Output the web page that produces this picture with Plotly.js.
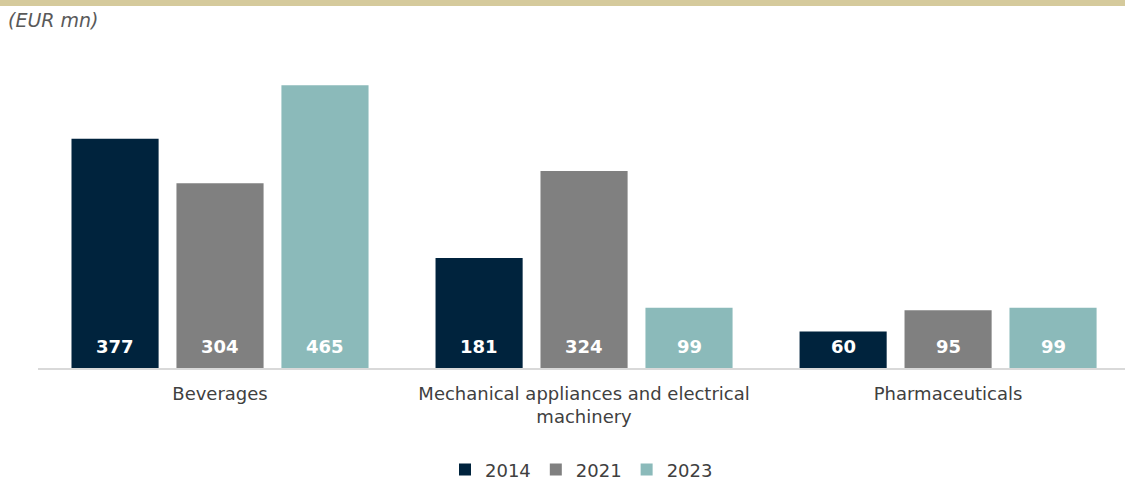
<!DOCTYPE html>
<html>
<head>
<meta charset="utf-8">
<script src="https://cdn.plot.ly/plotly-3.0.1.min.js"></script>
<style>
html,body{margin:0;padding:0;background:#fff;}
#wrap{position:relative;width:1125px;height:482px;}
#band{position:absolute;left:0;top:0;width:1125px;height:6px;background:#D5CA9C;z-index:5;}
#chart{position:absolute;left:0;top:0;width:1125px;height:482px;}
</style>
</head>
<body>
<div id="wrap"><div id="chart"></div><div id="band"></div></div>
<script>
const categories = ["Beverages", "Mechanical appliances and electrical<br>machinery", "Pharmaceuticals"];
const seriesNames = ["2014", "2021", "2023"];
const values2014 = [377, 181, 60];
const values2021 = [304, 324, 95];
const values2023 = [465, 99, 99];
const colors = ["#00233D", "#808080", "#8BBABA"];
const unitLabel = "(EUR mn)";

const font = "Verdana, 'DejaVu Sans', sans-serif";
const seriesValues = [values2014, values2021, values2023];
const bargap = 0.135;
const slot = (1 - bargap) / seriesValues.length;

const traces = seriesValues.map((vals, i) => ({
  type: "bar",
  name: seriesNames[i],
  x: categories.map((c, k) => k),
  y: vals,
  marker: {color: colors[i]},
  hoverinfo: "skip"
}));

// value labels near bar base, placed via the axis scales
const labelAnns = [];
seriesValues.forEach((vals, j) => {
  vals.forEach((v, k) => {
    labelAnns.push({
      x: k + (j - (seriesValues.length - 1) / 2) * slot, y: 0,
      xref: "x", yref: "y", text: "<b>" + v + "</b>", showarrow: false,
      xanchor: "center", yanchor: "bottom", yshift: 9,
      font: {family: font, size: 18, color: "#ffffff"}
    });
  });
});

const layout = {
  width: 1125, height: 482,
  margin: {l: 38, r: 0, t: 64, b: 114, autoexpand: false},
  paper_bgcolor: "#ffffff", plot_bgcolor: "#ffffff",
  font: {family: font, size: 18, color: "#404040"},
  barmode: "group",
  bargap: bargap,
  bargroupgap: 0.17,
  showlegend: true,
  legend: {orientation: "h", x: 0.5, xanchor: "center", y: -0.274, yanchor: "top",
           font: {family: font, size: 18, color: "#404040"}, itemwidth: 30, traceorder: "normal"},
  xaxis: {range: [-0.5, 2.486], showgrid: false, showline: true, zeroline: false,
          linecolor: "#D9D9D9", linewidth: 2, ticks: "", ticklabelstandoff: 8,
          tickmode: "array", tickvals: categories.map((c, k) => k), ticktext: categories,
          tickfont: {family: font, size: 18, color: "#404040"}, fixedrange: true},
  yaxis: {range: [0, 500], visible: false, showgrid: false, zeroline: false, fixedrange: true},
  annotations: labelAnns.concat([{
    text: "<i>" + unitLabel + "</i>", xref: "paper", yref: "paper",
    x: -32/1087, y: (368 - 20) / 304, xanchor: "left", yanchor: "middle", showarrow: false,
    font: {family: font, size: 19, color: "#595959"}
  }])
};

Plotly.newPlot("chart", traces, layout, {displayModeBar: false, staticPlot: true});
</script>
</body>
</html>
